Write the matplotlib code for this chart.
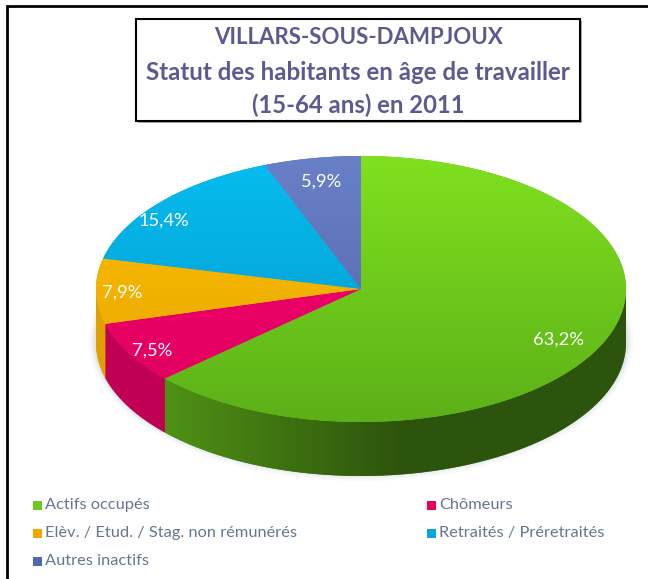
import numpy as np
import matplotlib
matplotlib.use('Agg')
import matplotlib.pyplot as plt
from matplotlib.colors import to_rgb
from matplotlib.patches import Rectangle, Ellipse

plt.rcParams['font.family'] = ['Lato', 'DejaVu Sans']

# valeurs
categories = ['Actifs occupés', 'Chômeurs', 'Elèv. / Etud. / Stag. non rémunérés',
              'Retraités / Préretraités', 'Autres inactifs']
values = [63.2, 7.5, 7.9, 15.4, 5.9]
value_labels = ['63,2%', '7,5%', '7,9%', '15,4%', '5,9%']
title_lines = ['VILLARS-SOUS-DAMPJOUX', "Statut des habitants en âge de travailler", '(15-64 ans) en 2011']

top_light = ['#7fe11f', '#f5006f', '#fcc000', '#05bdf0', '#6a80c6']
top_dark = ['#5cb018', '#e0005f', '#e8a400', '#0596c8', '#4f62a8']
side_colors = ['#4f9115', '#c00052', '#e0a000', '#0588b0', '#46568f']
legend_colors = ['#6fc820', '#e6005f', '#f0a800', '#0aa5dc', '#5068b0']

W, H = 648, 579
cx, cy, rx, ry, depth = 361, 289, 265, 133, 54

fig = plt.figure(figsize=(W / 100, H / 100), dpi=100)
ax = fig.add_axes([0, 0, 1, 1])
ax.axis('off')

# cadre
ax.plot([7, 7, W], [H, 6, 6], color='black', lw=2, solid_joinstyle='miter')

# ombre douce sous le camembert
for grow, alpha in [(14, 0.04), (9, 0.06), (5, 0.08)]:
    ax.add_patch(Ellipse((cx, cy + depth - 2), 2 * rx + grow, 2 * ry + grow, color='#5a6a80', alpha=alpha, lw=0))

# cumul en angles, sens horaire depuis le haut
cum = np.cumsum([0] + values) / sum(values) * 2 * np.pi


def ell(t):
    return cx + rx * np.sin(t), cy - ry * np.cos(t)


# paroi : un degrade horizontal decoupe par la forme de chaque part
xg = np.linspace(cx - rx, cx + rx, 530)
shade = np.interp(xg, [100, 165, 400, 627], [1.0, 1.0, 0.58, 0.58])
for i in range(len(values)):
    start = max(cum[i], np.pi / 2)
    stop = min(cum[i + 1], 3 * np.pi / 2)
    if stop <= start:
        continue
    ts = np.linspace(start, stop, 200)
    xs, ys = ell(ts)
    poly = ax.fill(np.r_[xs, xs[::-1]], np.r_[ys, ys[::-1] + depth], color=side_colors[i], lw=0)[0]
    img = shade[None, :, None] * np.array(to_rgb(side_colors[i]))
    im = ax.imshow(img, extent=[cx - rx, cx + rx, cy + ry + depth, cy - ry], aspect='auto', zorder=2)
    im.set_clip_path(poly)

# dessus : une part par categorie avec degrade vertical
for i in range(len(values)):
    ts = np.linspace(cum[i], cum[i + 1], 200)
    xs, ys = ell(ts)
    poly = ax.fill(np.r_[cx, xs], np.r_[cy, ys], color=top_dark[i], lw=0)[0]
    c0, c1 = np.array(to_rgb(top_light[i])), np.array(to_rgb(top_dark[i]))
    grad = np.linspace(0, 1, 256)[:, None, None] * (c1 - c0) + c0
    im = ax.imshow(grad, extent=[cx - rx, cx + rx, cy + ry, cy - ry], aspect='auto', zorder=3)
    im.set_clip_path(poly)
ax.set_xlim(0, W)
ax.set_ylim(H, 0)

# etiquettes des parts
label_xy = [(559, 340), (152, 351), (122, 293), (164, 221), (321, 182)]
for s, (x, y) in zip(value_labels, label_xy):
    ax.text(x, y, s, color='white', fontsize=13.2, ha='center', va='center', zorder=5)

# boite de titre
ax.add_patch(Rectangle((138, 21), 444, 102, fc='#555555', ec='none', alpha=0.5, zorder=5))
ax.add_patch(Rectangle((136, 19), 444, 102, fc='white', ec='black', lw=1.5, zorder=6))
for s, y, size in zip(title_lines, [37, 72, 105], [16, 17.4, 17.2]):
    ax.text(358, y, s, color='#5c5a8e', fontsize=size, fontweight='bold', ha='center', va='center', zorder=7)

# legende
legend_xy = [(33, 505), (427, 505), (33, 533), (427, 533), (33, 561)]
for name, col, (x, y) in zip(categories, legend_colors, legend_xy):
    ax.add_patch(Rectangle((x, y - 4), 9, 9, fc=col, ec='none'))
    ax.text(x + 12, y, name, color='#667690', fontsize=11.8, ha='left', va='center')

fig.savefig('out.png', dpi=100)
